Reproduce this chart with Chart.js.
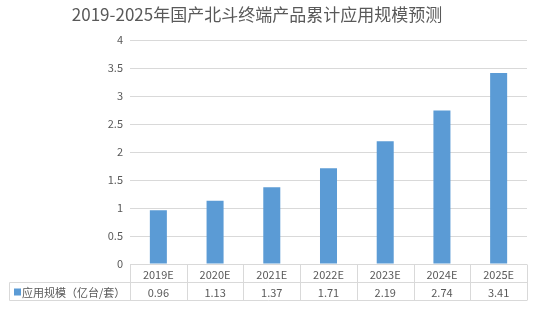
<!DOCTYPE html>
<html>
<head>
<meta charset="utf-8">
<script src="https://cdn.jsdelivr.net/npm/chart.js@4"></script>
<style>
  html, body { margin: 0; padding: 0; background: #fff; }
</style>
</head>
<body>
<canvas id="myChart" width="536" height="310"></canvas>
<script>
// datos del grafico
const titleText = "2019-2025年国产北斗终端产品累计应用规模预测";
const seriesName = "应用规模（亿台/套）";
const categories = ["2019E", "2020E", "2021E", "2022E", "2023E", "2024E", "2025E"];
const values = [0.96, 1.13, 1.37, 1.71, 2.19, 2.74, 3.41];
const valueLabels = ["0.96", "1.13", "1.37", "1.71", "2.19", "2.74", "3.41"];
const yMin = 0, yMax = 4, yStep = 0.5;

const textColor = "#595959";
const lineColor = "#d9d9d9";
const barColor = "#5b9bd5";
const fontFamily = "'Noto Sans CJK SC', 'Noto Sans', sans-serif";

// titulo centrado un poco a la izquierda como en la imagen
const titlePlugin = {
    id: "titlePlugin",
    afterDraw(chart) {
        const ctx = chart.ctx;
        ctx.save();
        ctx.fillStyle = textColor;
        ctx.font = "17px " + fontFamily;
        ctx.textAlign = "center";
        ctx.textBaseline = "middle";
        ctx.fillText(titleText, 257, 15);
        ctx.restore();
    }
};

// tabla de datos debajo del eje x
const tablePlugin = {
    id: "tablePlugin",
    afterDraw(chart) {
        const ctx = chart.ctx;
        const area = chart.chartArea;
        const n = categories.length;
        const colW = (area.right - area.left) / n;
        const top = Math.round(area.bottom) + 0.5;
        const mid = top + 18;
        const bottom = mid + 18;
        const legendLeft = 9.5;

        ctx.save();
        ctx.strokeStyle = lineColor;
        ctx.lineWidth = 1;
        ctx.beginPath();
        // lineas horizontales
        ctx.moveTo(area.left, top); ctx.lineTo(area.right, top);
        ctx.moveTo(legendLeft, mid); ctx.lineTo(area.right, mid);
        ctx.moveTo(legendLeft, bottom); ctx.lineTo(area.right, bottom);
        // lineas verticales
        for (let i = 0; i <= n; i++) {
            const x = Math.round(area.left + i * colW) + 0.5;
            ctx.moveTo(x, top); ctx.lineTo(x, bottom);
        }
        ctx.moveTo(legendLeft, mid); ctx.lineTo(legendLeft, bottom);
        ctx.stroke();

        ctx.fillStyle = textColor;
        ctx.font = "11px " + fontFamily;
        ctx.textAlign = "center";
        ctx.textBaseline = "middle";
        const xs = chart.scales.x;
        categories.forEach((c, i) => {
            const x = xs.getPixelForValue(i);
            ctx.fillText(c, x, (top + mid) / 2 + 1);
            ctx.fillText(valueLabels[i], x, (mid + bottom) / 2 + 1);
        });

        // leyenda
        ctx.fillStyle = barColor;
        ctx.fillRect(14, mid + 6, 7, 7);
        ctx.fillStyle = textColor;
        ctx.textAlign = "left";
        ctx.fillText(seriesName, 22, (mid + bottom) / 2 + 1);
        ctx.restore();
    }
};

const ctx = document.getElementById("myChart").getContext("2d");
new Chart(ctx, {
    type: "bar",
    data: {
        labels: categories,
        datasets: [{
            label: seriesName,
            data: values,
            backgroundColor: barColor,
            borderWidth: 0,
            barPercentage: 0.3,
            categoryPercentage: 1
        }]
    },
    options: {
        responsive: false,
        animation: false,
        layout: { padding: { left: 0, right: 9, top: 40, bottom: 46 } },
        plugins: {
            legend: { display: false },
            title: { display: false },
            tooltip: { enabled: false }
        },
        scales: {
            x: { display: false },
            y: {
                min: yMin,
                max: yMax,
                afterFit(scale) { scale.width = 130; },
                border: { display: false },
                grid: { color: lineColor, drawTicks: false },
                ticks: {
                    stepSize: yStep,
                    padding: 7,
                    color: textColor,
                    font: { size: 11, family: fontFamily },
                    callback: (v) => String(v)
                }
            }
        }
    },
    plugins: [titlePlugin, tablePlugin]
});
</script>
</body>
</html>
